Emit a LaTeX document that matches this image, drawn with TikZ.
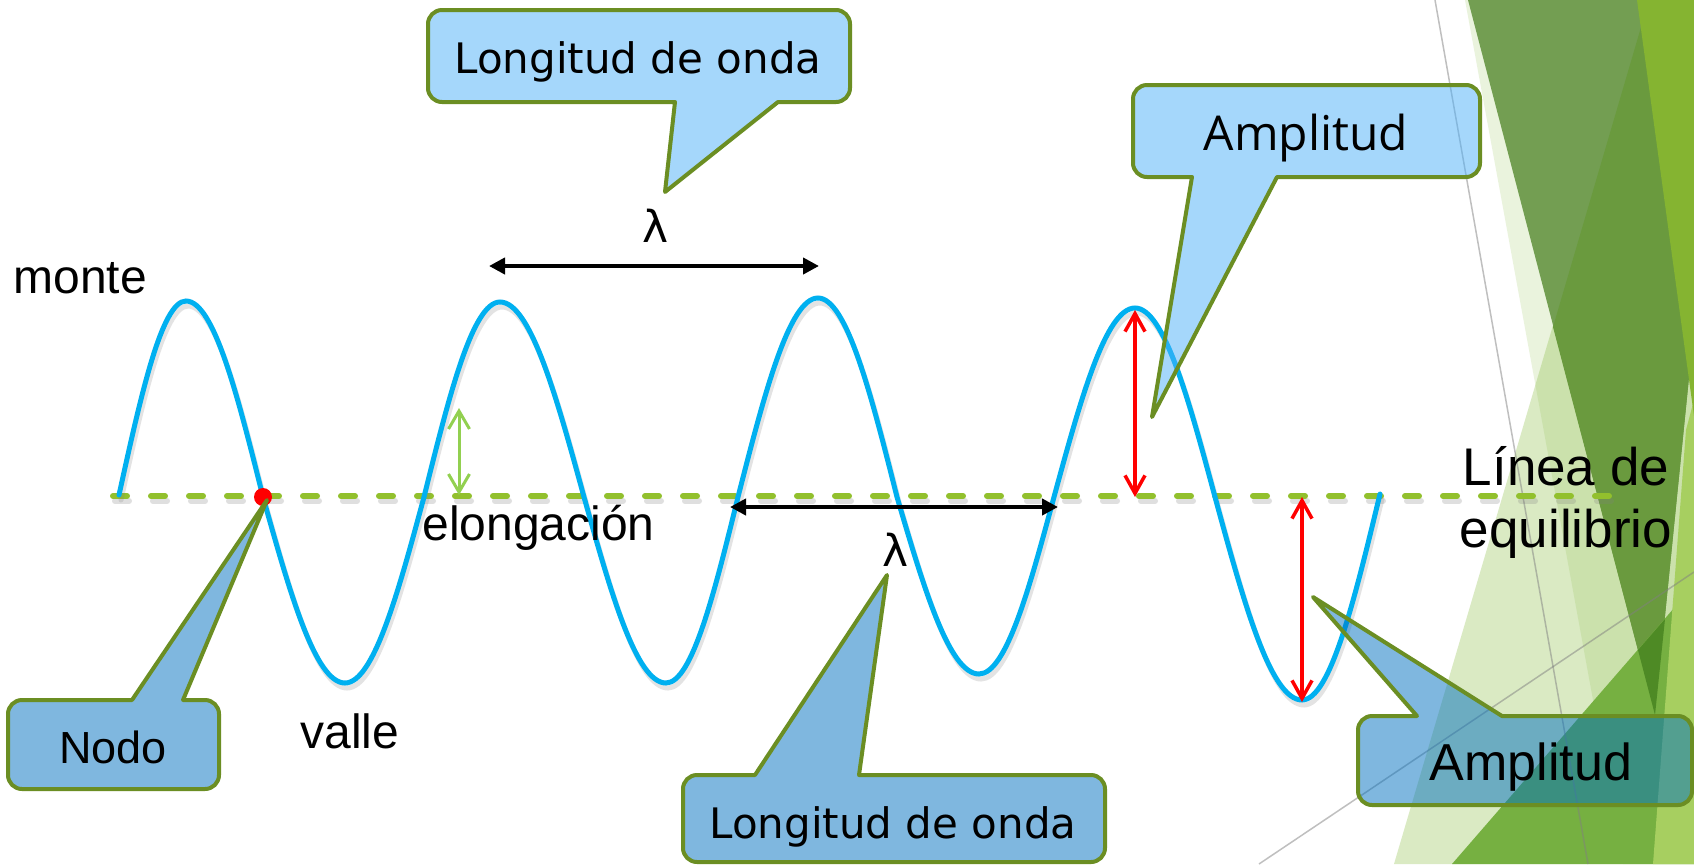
\documentclass[tikz,border=0pt]{standalone}
\usepackage{fontspec}
\setmainfont{Liberation Sans}
\newfontfamily\tahomafont{DejaVu Sans}
\newfontfamily\segoefont{Open Sans}
\usetikzlibrary{arrows.meta}
\definecolor{wavecol}{RGB}{0,176,240}
\definecolor{eqcol}{RGB}{146,192,45}
\definecolor{elongcol}{RGB}{146,208,80}
\definecolor{outlcol}{RGB}{107,142,35}
\definecolor{lbluecol}{RGB}{77,177,249}
\definecolor{mbluecol}{RGB}{0,112,192}
\definecolor{facetgreen}{RGB}{140,190,70}
\definecolor{darkA}{RGB}{115,158,82}
\definecolor{darkB}{RGB}{106,154,62}
\definecolor{brightG}{RGB}{133,180,49}
\definecolor{midG}{RGB}{118,176,65}
\definecolor{deepG}{RGB}{78,138,37}
\definecolor{stripG}{RGB}{167,207,96}
\newcommand\mywavepath{(119,495) sin (186,301) cos (263,497) sin (345,683) cos (424,497) sin (500,302) cos (584,497) sin (666,683) cos (738,497) sin (818,298) cos (897,497) sin (979,674) cos (1054,497) sin (1135,308) cos (1215,497) sin (1302,700) cos (1380,494)}
\begin{document}
\begin{tikzpicture}[x=0.5pt,y=-0.5pt,
  calloutbox/.style={draw=outlcol, line width=2pt, line join=round},
  lightcall/.style={calloutbox, fill=lbluecol, fill opacity=0.5},
  medcall/.style={calloutbox, fill=mbluecol, fill opacity=0.5},
  lamarrow/.style={line width=2pt, {Triangle[length=8pt,width=8pt]}-{Triangle[length=8pt,width=8pt]}},
  amparrow/.style={red, line width=1.75pt, {Straight Barb[length=9pt,width=10pt]}-{Straight Barb[length=9pt,width=10pt]}},
  elarrow/.style={elongcol, line width=1.5pt, {Straight Barb[length=9pt,width=10.5pt]}-{Straight Barb[length=9pt,width=10.5pt]}},
  wavestyle/.style={wavecol, line width=2.5pt, line cap=round},
  eqstyle/.style={eqcol, line width=3pt, line cap=round, dash pattern=on 7pt off 12pt},
  arialtext/.style={font=\fontsize{24}{28}\selectfont, inner sep=0pt},
  greyline/.style={draw=gray, draw opacity=0.5, line width=0.75pt}
]
\useasboundingbox (0,0) rectangle (1694,864);
\fill[white] (0,0) rectangle (1694,864);

% ---------- background facets ----------
\fill[facetgreen, opacity=0.18] (1465,0) -- (1694,0) -- (1694,864) -- (1623,864) -- cycle;
\fill[facetgreen, opacity=0.32] (1649,0) -- (1694,0) -- (1694,864) -- (1394,864) -- cycle;
\fill[darkA] (1468,0) -- (1727,0) -- (1655,715) -- cycle;
\fill[darkB] (1649,0) -- (1727,0) -- (1655,715) -- (1553,327) -- cycle;
\fill[midG] (1452,864) -- (1694,585) -- (1694,864) -- cycle;
\fill[deepG] (1638,650) -- (1665,619) -- (1655,715) -- cycle;
\fill[stripG] (1694,400) -- (1694,864) -- (1653,864) -- (1686,430) -- cycle;
\fill[brightG] (1637,0) -- (1694,0) -- (1694,416) -- cycle;
\draw[greyline] (1435,0) -- (1588,864);
\draw[greyline] (1259,864) -- (1694,572);

% ---------- equilibrium line and wave ----------
\coordinate (eqL) at (113,496);
\coordinate (eqR) at (1617,496);
\draw[eqstyle, gray, opacity=0.25] ([shift={(2,5)}]eqL) -- ([shift={(2,5)}]eqR);
\draw[eqstyle] (eqL) -- (eqR);
\begin{scope}[shift={(2,5)}]
\draw[wavestyle, gray, opacity=0.22] \mywavepath;
\end{scope}
\draw[wavestyle] \mywavepath;

\node[circle, fill=red, inner sep=0pt, minimum size=9pt] (nodedot) at (263,497) {};

% ---------- arrows ----------
\coordinate (lamAL) at (489,266);
\coordinate (lamAR) at (819,266);
\draw[lamarrow] (lamAL) -- (lamAR);
\coordinate (lamBL) at (730,507);
\coordinate (lamBR) at (1058,507);
\draw[lamarrow] (lamBL) -- (lamBR);
\coordinate (ampAtop) at (1135,310);
\coordinate (ampAbot) at (1135,497);
\draw[amparrow] (ampAtop) -- (ampAbot);
\coordinate (ampBtop) at (1302,497);
\coordinate (ampBbot) at (1302,702);
\draw[amparrow] (ampBtop) -- (ampBbot);
\coordinate (elTop) at (459,408);
\coordinate (elBot) at (459,495);
\draw[elarrow] (elTop) -- (elBot);

% ---------- callouts (start at tip; incoming segment sets corner) ----------
\draw[lightcall] (665,192) -- (675,102) [rounded corners=7pt] -- (428,102) -- (428,10) -- (850,10) -- (850,102) [sharp corners] -- (778,102) -- cycle;
\draw[lightcall] (1152,417) -- (1192,177) [rounded corners=7pt] -- (1133,177) -- (1133,85) -- (1480,85) -- (1480,177) [sharp corners] -- (1277,177) -- cycle;
\draw[medcall] (267,500) -- (183,700) [rounded corners=7pt] -- (219,700) -- (219,789) -- (8,789) -- (8,700) [sharp corners] -- (132,700) -- cycle;
\draw[medcall] (887,575) -- (859,775) [rounded corners=7pt] -- (1105,775) -- (1105,862) -- (683,862) -- (683,775) [sharp corners] -- (755,775) -- cycle;
\draw[medcall] (1313,597) -- (1502,716) [rounded corners=7pt] -- (1692,716) -- (1692,805) -- (1358,805) -- (1358,716) [sharp corners] -- (1417,716) -- cycle;

% ---------- texts ----------
\node[anchor=base, inner sep=0pt, font=\tahomafont\fontsize{21}{25}\selectfont] (lwtop) at (638,73) {Longitud de onda};
\node[anchor=base, inner sep=0pt, font=\tahomafont\fontsize{21}{25}\selectfont] (lwbot) at (893,838) {Longitud de onda};
\node[anchor=base, inner sep=0pt, font=\tahomafont\fontsize{22}{26}\selectfont] (lamtop) at (656,242) {λ};
\node[anchor=base, inner sep=0pt, font=\tahomafont\fontsize{22}{26}\selectfont] (lambot) at (896,566) {λ};
\node[anchor=base, inner sep=0pt, font=\segoefont\fontsize{24}{28}\selectfont] (amptop) at (1306,150) {Amplitud};
\node[anchor=base, inner sep=0pt, font=\fontsize{26}{30}\selectfont] (ampbot) at (1531,780) {Amplitud};
\node[anchor=base, inner sep=0pt, font=\fontsize{22.5}{26}\selectfont] (nodolbl) at (113,763) {Nodo};
\node[anchor=base west, arialtext] (monte) at (13,293) {monte};
\node[anchor=base west, arialtext] (valle) at (300,748) {valle};
\node[anchor=base west, arialtext] (elong) at (422,540) {elongación};
\node[anchor=base, inner sep=0pt, font=\fontsize{26.5}{31}\selectfont] (eqA) at (1566,485) {Línea de};
\node[anchor=base, inner sep=0pt, font=\fontsize{26.5}{31}\selectfont] (eqB) at (1566,547) {equilibrio};
\end{tikzpicture}
\end{document}
